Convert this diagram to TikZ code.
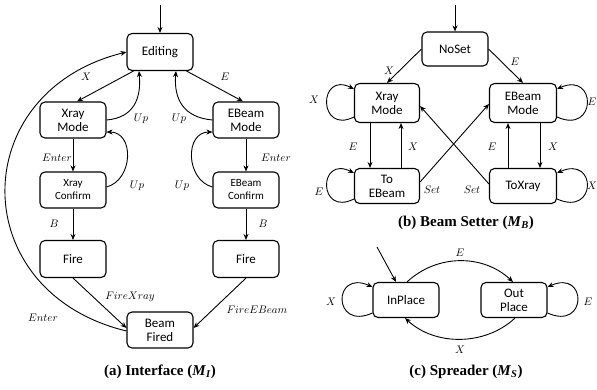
\documentclass[tikz,border=0pt]{standalone}
\usepackage{fontspec}
\setmainfont{Carlito}
\newfontfamily\capfont{Liberation Serif}
\usetikzlibrary{arrows.meta}
\begin{document}
\begin{tikzpicture}[x=1pt,y=1pt,
  st/.style={draw, line width=1.1pt, rounded corners=5pt, minimum width=66pt, minimum height=37pt, align=center, inner sep=1pt, font=\fontsize{13}{14}\selectfont},
  stsmall/.style={st, font=\fontsize{11}{13}\selectfont},
  arr/.style={-{Stealth[length=6pt,width=5pt]}, line width=0.9pt},
  lbl/.style={inner sep=0pt, font=\fontsize{11}{12}\selectfont},
  captext/.style={inner sep=0pt, font=\capfont\bfseries\fontsize{15}{17}\selectfont}]
\useasboundingbox (0,0) rectangle (597,-389);

% ---------- (a) Interface ----------
\node[st] (edit) at (160,-52) {Editing};
\node[st, minimum height=36pt] (xm) at (73,-120) {Xray\\Mode};
\node[st, minimum height=36pt] (em) at (246,-120) {EBeam\\Mode};
\node[stsmall, minimum height=36pt] (xc) at (73,-190) {Xray\\Confirm};
\node[stsmall, minimum height=36pt] (ec) at (246,-190) {EBeam\\Confirm};
\node[st] (xf) at (73,-259) {Fire};
\node[st] (ef) at (246,-259) {Fire};
\node[st, minimum height=36pt] (bf) at (160,-330) {Beam\\Fired};
\coordinate (a0) at (160,-5);

\draw[arr] (a0) -- (edit);
\draw[arr] ([xshift=7]edit.south west) -- ([xshift=4]xm.north);
\draw[arr] ([xshift=-7]edit.south east) -- ([xshift=-3]em.north);
\draw[arr] (xm.east) to[out=5,in=-85,looseness=1.2] ([xshift=-21]edit.south);
\draw[arr] (em.west) to[out=175,in=-95,looseness=1.2] ([xshift=16]edit.south);
\draw[arr] (xm) -- (xc);
\draw[arr] (em) -- (ec);
\draw[arr] ([yshift=3]xc.east) to[out=15,in=0,looseness=1.3] ([yshift=-12]xm.east);
\draw[arr] ([yshift=3]ec.west) to[out=165,in=180,looseness=1.3] ([yshift=-12]em.west);
\draw[arr] (xc) -- (xf);
\draw[arr] (ec) -- (ef);
\draw[arr] (xf.south) -- ([yshift=2]bf.west);
\draw[arr] (ef.south) -- ([yshift=2]bf.east);
\draw[arr] ([yshift=-1]bf.west) .. controls (-35,-292) and (-35,-92) .. (edit.west);

\node[lbl] (lax) at (86,-77) {$X$};
\node[lbl] (lae) at (225,-77) {$E$};
\node[lbl] (lau1) at (141,-119) {$Up$};
\node[lbl] (lau2) at (179,-119) {$Up$};
\node[lbl] (laen1) at (57,-158) {$Enter$};
\node[lbl] (laen2) at (276,-158) {$Enter$};
\node[lbl] (lau3) at (137,-186) {$Up$};
\node[lbl] (lau4) at (182,-186) {$Up$};
\node[lbl] (lab1) at (54,-224) {$B$};
\node[lbl] (lab2) at (263,-224) {$B$};
\node[lbl] (lafx) at (130,-297) {$FireXray$};
\node[lbl] (lafe) at (257,-310) {$FireEBeam$};
\node[lbl] (laen3) at (43,-318) {$Enter$};
\node[captext] (capa) at (160,-372) {(a) Interface (\textit{M}\textsubscript{\textit{I}})};

% ---------- (b) Beam Setter ----------
\node[st, minimum height=34pt] (ns) at (455,-49) {NoSet};
\node[st, minimum width=65pt, minimum height=39pt] (xb) at (387,-103) {Xray\\Mode};
\node[st, minimum width=67pt, minimum height=39pt] (eb) at (523,-103) {EBeam\\Mode};
\node[st, minimum width=65pt, minimum height=35pt] (te) at (387,-186) {To\\EBeam};
\node[st, minimum width=67pt, minimum height=35pt] (tx) at (523,-186) {ToXray};
\coordinate (b0) at (455,-5);

\draw[arr] (b0) -- (ns);
\draw[arr] (ns.west) -- (xb.north);
\draw[arr] (ns.east) -- (eb.north);
\draw[arr] ([yshift=-14]xb.west) .. controls +(-36,-18) and +(-36,18) .. ([yshift=14]xb.west);
\draw[arr] ([yshift=-14]eb.east) .. controls +(40,-18) and +(40,18) .. ([yshift=14]eb.east);
\draw[arr] ([yshift=-13]te.west) .. controls +(-36,-18) and +(-36,18) .. ([yshift=13]te.west);
\draw[arr] ([yshift=-13]tx.east) .. controls +(40,-18) and +(40,18) .. ([yshift=13]tx.east);
\draw[arr] ([xshift=-17]xb.south) -- ([xshift=-17]te.north);
\draw[arr] ([xshift=14]te.north) -- ([xshift=14]xb.south);
\draw[arr] ([xshift=17]eb.south) -- ([xshift=17]tx.north);
\draw[arr] ([xshift=-15]tx.north) -- ([xshift=-15]eb.south);
\draw[arr] ([yshift=4]te.east) -- ([yshift=-1]eb.west);
\draw[arr] ([yshift=2]tx.west) -- ([yshift=-3]xb.east);

\node[lbl] (lbx) at (389,-71) {$X$};
\node[lbl] (lbe) at (515,-62) {$E$};
\node[lbl] (lbx2) at (314,-100) {$X$};
\node[lbl] (lbe2) at (592,-102) {$E$};
\node[lbl] (lbe3) at (319,-192) {$E$};
\node[lbl] (lbx3) at (592,-186) {$X$};
\node[lbl] (lbe4) at (353,-147) {$E$};
\node[lbl] (lbx4) at (413,-147) {$X$};
\node[lbl] (lbe5) at (492,-147) {$E$};
\node[lbl] (lbx5) at (553,-147) {$X$};
\node[lbl] (lbs1) at (432,-190) {$Set$};
\node[lbl] (lbs2) at (472,-190) {$Set$};
\node[captext] (capb) at (466,-223) {(b) Beam Setter (\textit{M}\textsubscript{\textit{B}})};

% ---------- (c) Spreader ----------
\node[st, minimum height=35pt] (ip) at (406,-300) {InPlace};
\node[st, minimum height=35pt] (op) at (514,-300) {Out\\Place};
\coordinate (c0) at (377,-247);

\draw[arr] (c0) -- ([xshift=-10]ip.north);
\draw[arr] ([xshift=1]ip.north) .. controls +(30,28) and +(-30,28) .. ([xshift=-1]op.north);
\draw[arr] ([xshift=1]op.south) .. controls +(-30,-28) and +(30,-28) .. ([xshift=-1]ip.south);
\draw[arr] ([yshift=-13]ip.west) .. controls +(-40,-18) and +(-40,18) .. ([yshift=13]ip.west);
\draw[arr] ([yshift=-13]op.east) .. controls +(40,-18) and +(40,18) .. ([yshift=13]op.east);

\node[lbl] (lce) at (460,-253) {$E$};
\node[lbl] (lcx) at (460,-350) {$X$};
\node[lbl] (lcx2) at (331,-302) {$X$};
\node[lbl] (lce2) at (588,-302) {$E$};
\node[captext] (capc) at (466,-372) {(c) Spreader (\textit{M}\textsubscript{\textit{S}})};
\end{tikzpicture}
\end{document}
